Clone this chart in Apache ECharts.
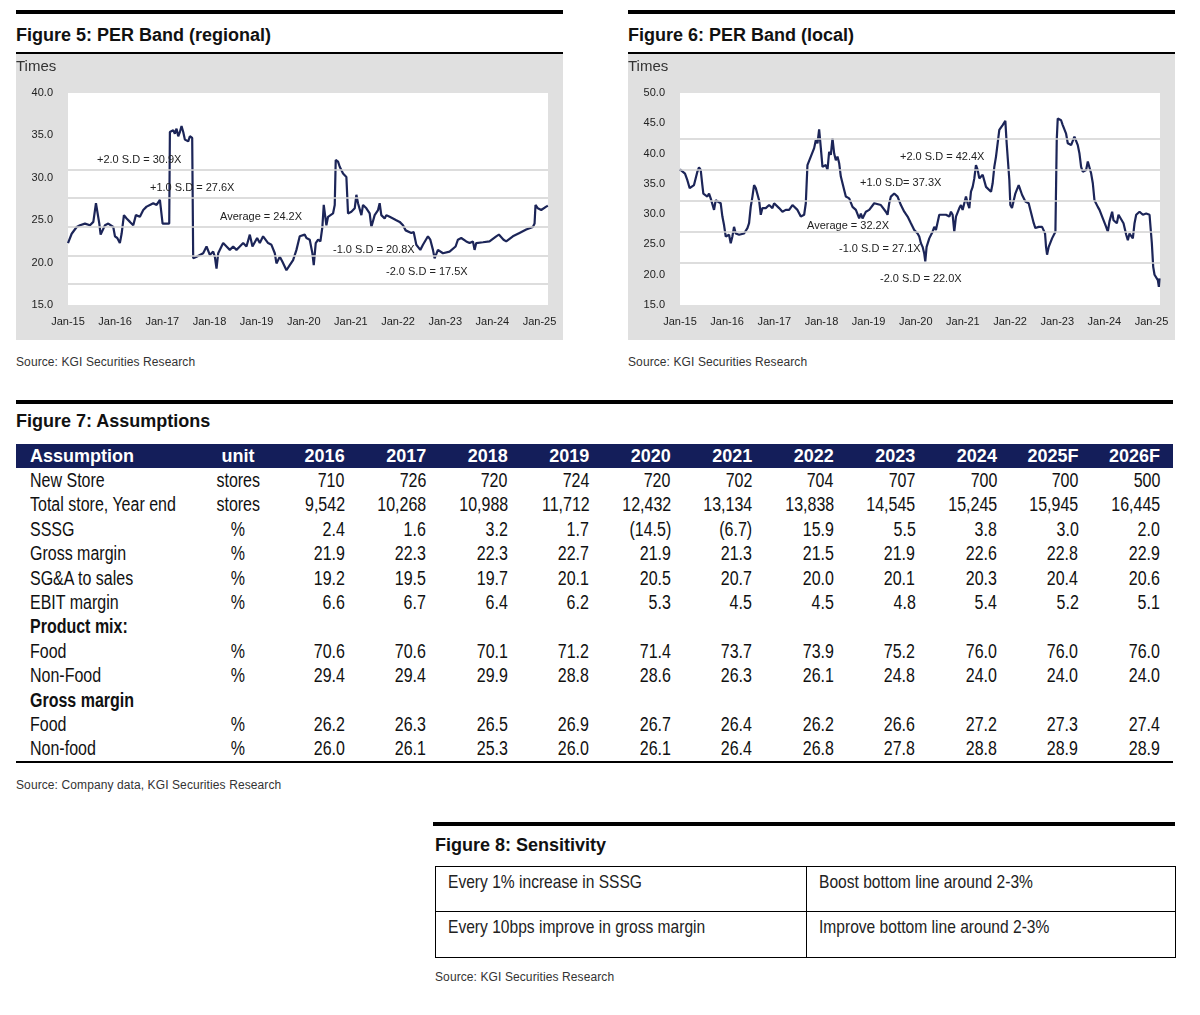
<!DOCTYPE html>
<html><head><meta charset="utf-8">
<script src="https://cdn.jsdelivr.net/npm/echarts@6/dist/echarts.min.js"></script>
<style>
body{margin:0;width:1200px;height:1015px;background:#fff;position:relative;font-family:'Liberation Sans',Arial,sans-serif;color:#111;overflow:hidden}
.bar{position:absolute;background:#000}
.ttl{position:absolute;font-weight:bold;font-size:18px;line-height:22px;white-space:nowrap;color:#111}
.src{position:absolute;font-size:12px;line-height:14px;color:#333;white-space:nowrap;letter-spacing:0.1px}
.chart{position:absolute}
table{border-collapse:collapse;table-layout:fixed;position:absolute}
#t7 td,#t7 th{padding:0;white-space:nowrap;overflow:visible}
#t7 th{background:#141e5a;color:#fff;font-weight:bold;font-size:18px;height:24px;line-height:24px}
#t7 td{font-size:20px;height:24.4px;line-height:24.4px;color:#111}
#t7 .lab{text-align:left;padding-left:14px}
#t7 .unit{text-align:center}
#t7 .num{text-align:right;padding-right:13px}
#t7 td.sec{font-weight:bold}
.n{display:inline-block;transform:scaleX(0.8)}
.lab .n{transform-origin:left center}
.unit .n{transform-origin:center center}
.num .n{transform-origin:right center}
#t8 td{border:1.5px solid #000;font-size:19px;color:#222;vertical-align:top;padding:4px 0 0 12px;white-space:nowrap}
#t8 .n{transform-origin:left center;transform:scaleX(0.82)}
</style></head>
<body>
<div class="bar" style="left:16px;top:10px;width:547px;height:4px"></div>
<div class="ttl" style="left:16px;top:24px">Figure 5: PER Band (regional)</div>
<div class="bar" style="left:16px;top:52px;width:547px;height:2px"></div>
<div id="c5" class="chart" style="left:16px;top:54px;width:547px;height:286px"></div>
<div class="src" style="left:16px;top:355px">Source: KGI Securities Research</div>

<div class="bar" style="left:628px;top:10px;width:547px;height:4px"></div>
<div class="ttl" style="left:628px;top:24px">Figure 6: PER Band (local)</div>
<div class="bar" style="left:628px;top:52px;width:547px;height:2px"></div>
<div id="c6" class="chart" style="left:628px;top:54px;width:547px;height:286px"></div>
<div class="src" style="left:628px;top:355px">Source: KGI Securities Research</div>

<div class="bar" style="left:16px;top:400px;width:1157px;height:4px"></div>
<div class="ttl" style="left:16px;top:410px">Figure 7: Assumptions</div>
<table id="t7" style="left:16px;top:444px;width:1157px"></table>
<div class="bar" style="left:16px;top:761px;width:1157px;height:2px"></div>
<div class="src" style="left:16px;top:778px">Source: Company data, KGI Securities Research</div>

<div class="bar" style="left:433px;top:822px;width:742px;height:4px"></div>
<div class="ttl" style="left:435px;top:834px">Figure 8: Sensitivity</div>
<table id="t8" style="left:435px;top:866px;width:740px"></table>
<div class="src" style="left:435px;top:970px">Source: KGI Securities Research</div>

<script>
// ---------- Figure 5: PER band (regional) ----------
const regionalPER = [[2015.000,22.3],[2015.078,23.4],[2015.184,24.2],[2015.254,24.4],[2015.360,24.6],[2015.466,24.4],[2015.537,24.8],[2015.593,27.0],[2015.664,24.6],[2015.692,23.3],[2015.734,23.5],[2015.784,24.4],[2015.855,24.6],[2015.890,24.8],[2015.960,24.2],[2015.996,23.1],[2016.045,22.9],[2016.100,22.3],[2016.137,23.4],[2016.186,25.6],[2016.243,25.2],[2016.314,24.8],[2016.384,24.4],[2016.440,25.6],[2016.525,25.4],[2016.596,26.2],[2016.667,26.6],[2016.737,26.8],[2016.808,27.0],[2016.879,26.8],[2016.949,27.4],[2016.984,27.4],[2017.006,24.6],[2017.147,24.6],[2017.161,35.4],[2017.232,35.6],[2017.267,35.2],[2017.302,35.8],[2017.338,34.9],[2017.373,35.4],[2017.408,36.1],[2017.444,35.4],[2017.479,34.5],[2017.550,34.3],[2017.585,34.9],[2017.634,34.7],[2017.655,20.5],[2017.726,20.7],[2017.867,21.1],[2017.938,21.9],[2018.008,20.9],[2018.079,21.3],[2018.114,20.7],[2018.150,19.3],[2018.185,21.1],[2018.291,22.3],[2018.362,21.9],[2018.432,21.5],[2018.503,21.9],[2018.573,21.5],[2018.644,21.9],[2018.715,22.3],[2018.785,21.9],[2018.856,23.3],[2018.912,21.9],[2019.011,22.9],[2019.068,22.3],[2019.138,23.1],[2019.244,22.3],[2019.315,22.1],[2019.386,21.1],[2019.421,19.9],[2019.492,20.7],[2019.548,20.1],[2019.633,19.1],[2019.703,19.7],[2019.774,20.3],[2019.845,21.5],[2019.915,23.1],[2020.020,23.3],[2020.057,22.9],[2020.127,22.7],[2020.183,21.1],[2020.212,19.7],[2020.254,22.3],[2020.304,22.7],[2020.353,22.5],[2020.395,24.2],[2020.424,26.8],[2020.452,26.6],[2020.480,24.4],[2020.515,25.4],[2020.621,25.8],[2020.657,26.8],[2020.678,32.1],[2020.727,31.9],[2020.763,31.3],[2020.798,31.5],[2020.833,30.5],[2020.869,30.7],[2020.904,30.1],[2020.939,25.8],[2020.975,25.6],[2021.010,26.0],[2021.045,25.8],[2021.081,26.4],[2021.116,28.0],[2021.151,27.0],[2021.186,27.2],[2021.222,25.6],[2021.257,26.8],[2021.328,26.4],[2021.398,25.8],[2021.434,24.2],[2021.469,24.0],[2021.504,25.6],[2021.575,26.2],[2021.610,27.0],[2021.645,25.6],[2021.716,25.2],[2021.751,25.6],[2021.822,25.4],[2021.893,25.2],[2021.963,25.0],[2022.034,24.8],[2022.105,24.4],[2022.161,23.8],[2022.281,23.5],[2022.331,23.6],[2022.387,22.1],[2022.472,21.5],[2022.528,22.1],[2022.634,23.1],[2022.684,22.7],[2022.740,21.5],[2022.775,20.5],[2022.846,21.5],[2022.952,21.1],[2023.093,21.3],[2023.220,21.9],[2023.270,22.7],[2023.340,22.9],[2023.446,22.5],[2023.517,22.3],[2023.588,22.5],[2023.623,21.5],[2023.658,22.3],[2023.800,22.4],[2023.940,22.5],[2024.082,23.1],[2024.138,23.3],[2024.237,22.7],[2024.294,22.5],[2024.435,23.1],[2024.576,23.5],[2024.718,23.9],[2024.859,24.2],[2024.895,24.6],[2024.915,26.8],[2024.965,26.4],[2025.036,26.2],[2025.071,26.0],[2025.142,26.6],[2025.177,26.7]];
const regionalBands = [30.9, 27.6, 24.2, 20.8, 17.5];
const regionalBandNames = ['+2.0 S.D = 30.9X', '+1.0 S.D = 27.6X', 'Average = 24.2X', '-1.0 S.D = 20.8X', '-2.0 S.D = 17.5X'];

// ---------- Figure 6: PER band (local) ----------
const localPER = [[2015.000,37.4],[2015.106,36.7],[2015.156,35.6],[2015.205,34.3],[2015.297,34.8],[2015.368,37.0],[2015.403,37.7],[2015.439,37.3],[2015.474,34.8],[2015.495,33.4],[2015.580,32.9],[2015.616,33.4],[2015.651,32.6],[2015.686,32.9],[2015.722,30.7],[2015.757,32.3],[2015.863,31.8],[2015.899,29.6],[2015.934,28.2],[2015.970,26.3],[2016.005,26.0],[2016.040,26.6],[2016.076,25.2],[2016.111,26.3],[2016.146,27.9],[2016.182,26.8],[2016.253,26.6],[2016.359,26.8],[2016.430,27.7],[2016.465,28.5],[2016.500,31.2],[2016.536,32.9],[2016.571,34.8],[2016.607,34.3],[2016.677,32.3],[2016.713,29.9],[2016.748,31.0],[2016.819,31.0],[2016.890,31.5],[2016.960,31.0],[2016.996,31.8],[2017.102,31.0],[2017.173,30.4],[2017.243,30.7],[2017.314,30.7],[2017.385,31.5],[2017.491,30.7],[2017.562,29.6],[2017.597,29.3],[2017.633,29.9],[2017.668,31.8],[2017.703,38.1],[2017.774,39.5],[2017.810,39.2],[2017.845,40.9],[2017.880,42.2],[2017.916,41.7],[2017.951,44.0],[2017.987,40.9],[2018.022,37.8],[2018.093,38.1],[2018.128,37.3],[2018.163,40.3],[2018.199,39.8],[2018.234,42.5],[2018.270,40.0],[2018.305,38.9],[2018.340,39.5],[2018.376,38.4],[2018.411,36.2],[2018.482,34.0],[2018.517,32.9],[2018.588,32.6],[2018.659,31.2],[2018.730,30.7],[2018.800,29.3],[2018.836,30.1],[2018.871,29.3],[2018.942,30.4],[2019.013,30.7],[2019.119,31.8],[2019.154,32.1],[2019.260,31.5],[2019.366,30.4],[2019.402,29.9],[2019.437,31.8],[2019.473,32.9],[2019.543,33.4],[2019.614,32.9],[2019.685,31.5],[2019.756,30.4],[2019.827,29.6],[2019.897,28.5],[2019.968,27.4],[2020.039,26.8],[2020.074,26.3],[2020.110,25.2],[2020.145,24.6],[2020.180,23.5],[2020.202,22.2],[2020.230,24.6],[2020.287,26.0],[2020.357,27.1],[2020.393,27.9],[2020.428,27.4],[2020.499,29.9],[2020.570,29.9],[2020.641,29.9],[2020.712,29.6],[2020.747,30.4],[2020.782,29.9],[2020.817,27.1],[2020.853,29.6],[2020.924,31.0],[2020.959,31.5],[2020.994,30.7],[2021.065,32.9],[2021.100,31.8],[2021.136,31.0],[2021.171,33.7],[2021.207,34.5],[2021.242,35.9],[2021.277,38.1],[2021.313,37.3],[2021.348,35.9],[2021.419,36.5],[2021.490,34.5],[2021.596,33.7],[2021.631,35.1],[2021.666,37.8],[2021.702,39.5],[2021.737,39.8],[2021.772,43.9],[2021.843,44.7],[2021.879,44.4],[2021.900,45.4],[2021.928,41.7],[2021.985,35.6],[2022.006,31.5],[2022.041,31.0],[2022.112,33.4],[2022.183,34.8],[2022.254,33.2],[2022.325,32.1],[2022.395,31.8],[2022.431,30.7],[2022.502,28.5],[2022.537,27.7],[2022.608,27.9],[2022.679,27.9],[2022.742,26.8],[2022.763,24.6],[2022.785,23.3],[2022.820,24.6],[2022.891,26.0],[2022.962,27.1],[2022.990,42.2],[2023.011,45.8],[2023.047,46.1],[2023.082,45.5],[2023.117,44.7],[2023.188,43.3],[2023.224,41.7],[2023.295,41.4],[2023.365,42.8],[2023.436,41.4],[2023.472,40.0],[2023.507,37.8],[2023.542,37.0],[2023.613,37.3],[2023.649,38.7],[2023.720,36.7],[2023.755,35.1],[2023.790,32.3],[2023.861,31.2],[2023.897,30.7],[2023.967,29.3],[2024.038,27.9],[2024.073,27.1],[2024.109,28.8],[2024.165,30.4],[2024.194,29.0],[2024.265,28.5],[2024.300,29.9],[2024.335,30.1],[2024.406,28.5],[2024.463,26.6],[2024.498,25.7],[2024.533,26.8],[2024.604,26.0],[2024.640,28.5],[2024.675,29.9],[2024.746,30.4],[2024.817,29.9],[2024.887,30.1],[2024.958,29.9],[2024.979,29.6],[2025.007,25.2],[2025.036,21.3],[2025.064,20.0],[2025.099,19.7],[2025.134,19.1],[2025.156,18.0],[2025.170,19.4]];
const localBands = [42.4, 37.3, 32.2, 27.1, 22.0];
const localBandNames = ['+2.0 S.D = 42.4X', '+1.0 S.D= 37.3X', 'Average = 32.2X', '-1.0 S.D = 27.1X', '-2.0 S.D = 22.0X'];

// ---------- Figure 7: Assumptions ----------
const years = ['2016','2017','2018','2019','2020','2021','2022','2023','2024','2025F','2026F'];
const newStore = [710,726,720,724,720,702,704,707,700,700,500];
const totalStore = [9542,10268,10988,11712,12432,13134,13838,14545,15245,15945,16445];
const sssg = [2.4,1.6,3.2,1.7,-14.5,-6.7,15.9,5.5,3.8,3.0,2.0];
const grossMargin = [21.9,22.3,22.3,22.7,21.9,21.3,21.5,21.9,22.6,22.8,22.9];
const sgaToSales = [19.2,19.5,19.7,20.1,20.5,20.7,20.0,20.1,20.3,20.4,20.6];
const ebitMargin = [6.6,6.7,6.4,6.2,5.3,4.5,4.5,4.8,5.4,5.2,5.1];
const mixFood = [70.6,70.6,70.1,71.2,71.4,73.7,73.9,75.2,76.0,76.0,76.0];
const mixNonFood = [29.4,29.4,29.9,28.8,28.6,26.3,26.1,24.8,24.0,24.0,24.0];
const gmFood = [26.2,26.3,26.5,26.9,26.7,26.4,26.2,26.6,27.2,27.3,27.4];
const gmNonFood = [26.0,26.1,25.3,26.0,26.1,26.4,26.8,27.8,28.8,28.9,28.9];

// ---------- Figure 8: Sensitivity ----------
const sensitivityDriver = ['Every 1% increase in SSSG', 'Every 10bps improve in gross margin'];
const sensitivityImpact = ['Boost bottom line around 2-3%', 'Improve bottom line around 2-3%'];

const FONT = "'Liberation Sans', Arial, sans-serif";

function perChart(id, data, yMin, yMax, bands, names, labelOpts) {
  const chart = echarts.init(document.getElementById(id), null, {renderer: 'canvas'});
  chart.setOption({
    animation: false,
    backgroundColor: '#e0e0e0',
    textStyle: {fontFamily: FONT},
    title: {text: 'Times', left: 0, top: 5, padding: 0, textStyle: {fontSize: 15, fontWeight: 'normal', color: '#333', fontFamily: FONT}},
    grid: {left: 52, right: 15, top: 39, bottom: 35, show: true, backgroundColor: '#ffffff', borderWidth: 0},
    xAxis: {
      type: 'value', min: 2015, max: 2025.18, interval: 1,
      axisLine: {show: false}, axisTick: {show: false}, splitLine: {show: false},
      axisLabel: {
        margin: 11, fontSize: 11, color: '#222', fontFamily: FONT, showMaxLabel: false,
        formatter: v => Math.abs(v - Math.round(v)) < 1e-6 ? 'Jan-' + String(Math.round(v)).slice(2) : ''
      }
    },
    yAxis: {
      type: 'value', min: yMin, max: yMax, interval: 5,
      axisLine: {show: false}, axisTick: {show: false}, splitLine: {show: false},
      axisLabel: {margin: 15, fontSize: 11, color: '#222', fontFamily: FONT, formatter: v => v.toFixed(1)}
    },
    series: [
      {
        type: 'line', data: [], z: 1, silent: true,
        markLine: {
          silent: true, symbol: 'none', animation: false,
          lineStyle: {color: '#d2d2d2', type: 'solid', width: 1.5},
          data: bands.map((b, i) => ({
            yAxis: b,
            label: {
              show: true, formatter: names[i], position: labelOpts[i].pos,
              distance: labelOpts[i].dist, color: '#222', fontSize: 11, fontFamily: FONT
            }
          }))
        }
      },
      {
        type: 'line', data: data, z: 3, showSymbol: false, smooth: false,
        lineStyle: {color: '#1c2558', width: 2.2}, itemStyle: {color: '#1c2558'}
      }
    ]
  });
}

perChart('c5', regionalPER, 15, 40, regionalBands, regionalBandNames, [
  {pos: 'insideStartTop', dist: [29, 5]},
  {pos: 'insideStartTop', dist: [82, 5]},
  {pos: 'insideStartTop', dist: [152, 5]},
  {pos: 'insideStartTop', dist: [265, 0]},
  {pos: 'insideStartTop', dist: [318, 6]}
]);
perChart('c6', localPER, 15, 50, localBands, localBandNames, [
  {pos: 'insideStartBottom', dist: [220, 12]},
  {pos: 'insideStartBottom', dist: [180, 8]},
  {pos: 'insideStartBottom', dist: [127, 20]},
  {pos: 'insideStartBottom', dist: [159, 12]},
  {pos: 'insideStartBottom', dist: [200, 11]}
]);

// Build Figure 7 table
function fmt1(v) { return v < 0 ? '(' + Math.abs(v).toFixed(1) + ')' : v.toFixed(1); }
function fmtInt(v) { return v.toLocaleString('en-US'); }
function esc(s) { return s.replace(/&/g, '&amp;'); }
function nspan(s) { return '<span class="n">' + esc(s) + '</span>'; }
const t7rows = [
  ['New Store', 'stores', newStore, fmtInt],
  ['Total store, Year end', 'stores', totalStore, fmtInt],
  ['SSSG', '%', sssg, fmt1],
  ['Gross margin', '%', grossMargin, fmt1],
  ['SG&A to sales', '%', sgaToSales, fmt1],
  ['EBIT margin', '%', ebitMargin, fmt1],
  ['Product mix:', null],
  ['Food', '%', mixFood, fmt1],
  ['Non-Food', '%', mixNonFood, fmt1],
  ['Gross margin', null],
  ['Food', '%', gmFood, fmt1],
  ['Non-food', '%', gmNonFood, fmt1]
];
const t7 = document.getElementById('t7');
let html = '<colgroup><col style="width:184px"><col style="width:76px">' + years.map(() => '<col style="width:81.5px">').join('') + '</colgroup>';
html += '<tr><th style="text-align:left;padding-left:14px">Assumption</th><th style="text-align:center">unit</th>' + years.map(y => '<th style="text-align:right;padding-right:13px">' + y + '</th>').join('') + '</tr>';
t7rows.forEach(r => {
  if (r[1] === null) {
    html += '<tr><td class="lab sec">' + nspan(r[0]) + '</td><td></td>' + years.map(() => '<td></td>').join('') + '</tr>';
  } else {
    html += '<tr><td class="lab">' + nspan(r[0]) + '</td><td class="unit">' + nspan(r[1]) + '</td>' + r[2].map(v => '<td class="num">' + nspan(r[3](v)) + '</td>').join('') + '</tr>';
  }
});
t7.innerHTML = html;

// Build Figure 8 table
const t8 = document.getElementById('t8');
let h8 = '<colgroup><col style="width:371px"><col style="width:369px"></colgroup>';
sensitivityDriver.forEach((d, i) => {
  h8 += '<tr><td style="height:' + (i === 0 ? 40 : 41) + 'px">' + nspan(d) + '</td><td>' + nspan(sensitivityImpact[i]) + '</td></tr>';
});
t8.innerHTML = h8;
</script>
</body></html>
